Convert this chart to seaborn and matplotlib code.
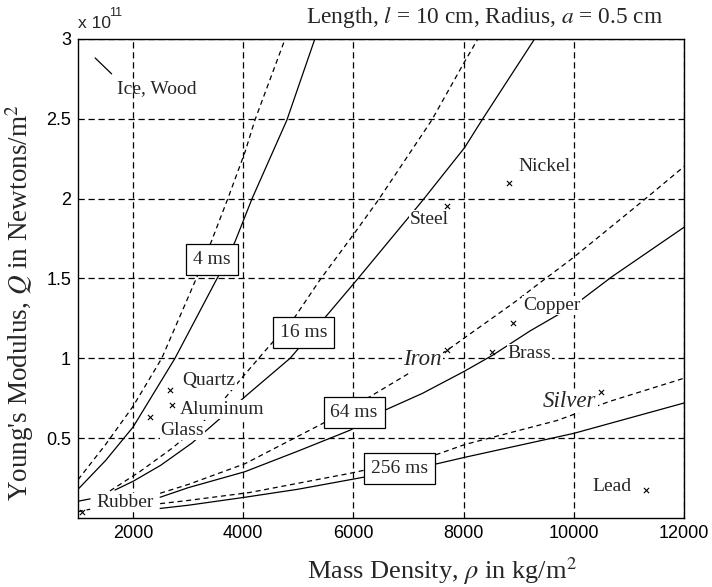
import pandas as pd
import seaborn as sns
import matplotlib.pyplot as plt

sns.set_style('white')
plt.rcParams['font.family'] = ['Liberation Serif', 'DejaVu Serif']
plt.rcParams['mathtext.fontset'] = 'stix'

# Curves. rho in kg/m^3, Q in units of 1e11 N/m^2
rho_4_solid = [1000, 1500, 2000, 2760, 3540, 3850, 4160, 4790, 5300]
q_4_solid = [0.18, 0.36, 0.57, 1.0, 1.51, 1.73, 2.0, 2.49, 3.0]
rho_4_dash = [1000, 1500, 2000, 2520, 3160, 3430, 3720, 4030, 4210, 4760]
q_4_dash = [0.24, 0.46, 0.70, 1.0, 1.51, 1.74, 2.0, 2.29, 2.49, 3.0]

rho_16_solid = [1670, 2000, 2500, 3070, 4100, 4850, 5520, 6060, 6660, 7260, 8020, 8330, 9290]
q_16_solid = [0.175, 0.23, 0.33, 0.47, 0.78, 1.0, 1.27, 1.49, 1.74, 1.99, 2.32, 2.49, 3.0]
rho_16_dash = [1580, 2120, 2720, 3400, 4030, 4430, 4940, 5390, 5990, 6450, 7420, 7990, 8260]
q_16_dash = [0.17, 0.29, 0.44, 0.64, 0.9, 1.06, 1.26, 1.49, 1.77, 1.99, 2.49, 2.84, 3.0]

rho_64_solid = [2490, 3000, 4030, 5000, 5940, 6570, 7250, 8020, 8530, 9200, 10000, 10690, 12000]
q_64_solid = [0.13, 0.19, 0.29, 0.42, 0.55, 0.675, 0.78, 0.92, 1.02, 1.17, 1.33, 1.51, 1.82]
rho_64_dash = [2490, 3000, 4030, 5430, 6300, 6930, 7700, 8960, 9260, 9990, 11270, 12000]
q_64_dash = [0.155, 0.21, 0.34, 0.59, 0.76, 0.89, 1.05, 1.36, 1.44, 1.63, 1.99, 2.2]

rho_256_solid = [2490, 3000, 4030, 4990, 5940, 7520, 8020, 10000, 12000]
q_256_solid = [0.06, 0.08, 0.13, 0.18, 0.24, 0.34, 0.38, 0.53, 0.72]
rho_256_dash = [2490, 3000, 4120, 5940, 7530, 8020, 9690, 10650, 12000]
q_256_dash = [0.09, 0.11, 0.16, 0.28, 0.40, 0.46, 0.61, 0.73, 0.875]

# short bits near rubber and ice/wood
rho_rubber_solid = [1000, 1220]
q_rubber_solid = [0.105, 0.12]
rho_rubber_dash = [1000, 1220]
q_rubber_dash = [0.04, 0.055]
rho_ice = [1310, 1610]
q_ice = [2.88, 2.78]

period_labels = ['4 ms', '16 ms', '64 ms', '256 ms']
period_rho = [3430, 5100, 6010, 6840]
period_q = [1.62, 1.16, 0.66, 0.31]

materials = ['Quartz', 'Aluminum', 'Glass', 'Nickel', 'Steel', 'Copper',
             'Iron', 'Brass', 'Silver', 'Lead', 'Rubber']
mat_rho = [2670, 2700, 2300, 8820, 7700, 8900, 7700, 8510, 10500, 11310, 1070]
mat_q = [0.80, 0.71, 0.63, 2.10, 1.95, 1.22, 1.05, 1.04, 0.79, 0.175, 0.04]
# where the names are written (left edge, middle)
name_rho = [2900, 2850, 2500, 8990, 7030, 9080, 6900, 8800, 9440, 10330, 1340]
name_q = [0.86, 0.68, 0.55, 2.2, 1.87, 1.33, 0.99, 1.03, 0.73, 0.2, 0.1]

curves = [
    ('4s', 'solid', rho_4_solid, q_4_solid), ('4d', 'dashed', rho_4_dash, q_4_dash),
    ('16s', 'solid', rho_16_solid, q_16_solid), ('16d', 'dashed', rho_16_dash, q_16_dash),
    ('64s', 'solid', rho_64_solid, q_64_solid), ('64d', 'dashed', rho_64_dash, q_64_dash),
    ('256s', 'solid', rho_256_solid, q_256_solid), ('256d', 'dashed', rho_256_dash, q_256_dash),
    ('rs', 'solid', rho_rubber_solid, q_rubber_solid), ('rd', 'dashed', rho_rubber_dash, q_rubber_dash),
    ('ice', 'solid', rho_ice, q_ice),
]
rows = []
for name, kind, xs, ys in curves:
    for x, y in zip(xs, ys):
        rows.append((name, kind, x, y))
df = pd.DataFrame(rows, columns=['curve', 'kind', 'rho', 'Q'])

fig, ax = plt.subplots(figsize=(7.12, 5.87), dpi=100)
fig.subplots_adjust(left=0.1096, right=0.9607, bottom=0.1175, top=0.934)

sns.lineplot(data=df, x='rho', y='Q', units='curve', style='kind', estimator=None, sort=False,
             dashes={'solid': '', 'dashed': (4, 3)}, color='black', linewidth=0.9,
             legend=False, ax=ax, zorder=3)
sns.scatterplot(x=mat_rho, y=mat_q, marker='x', color='black', s=14, linewidth=0.8, ax=ax, zorder=6)

for lab, x, y in zip(period_labels, period_rho, period_q):
    ax.text(x, y, lab, ha='center', va='center', fontsize=14, zorder=7,
            bbox=dict(boxstyle='square,pad=0.35', fc='white', ec='black', lw=0.9))

for name, x, y in zip(materials, name_rho, name_q):
    italic = name in ('Iron', 'Silver')
    ax.text(x, y, name, ha='left', va='center', fontsize=16.5 if italic else 14,
            fontstyle='italic' if italic else 'normal', zorder=5,
            bbox=dict(boxstyle='square,pad=0.05', fc='white', ec='none'))
ax.text(1710, 2.69, 'Ice, Wood', ha='left', va='center', fontsize=14, zorder=5)

ax.set_xlim(1000, 12000)
ax.set_ylim(0, 3)
ax.set_xticks([2000, 4000, 6000, 8000, 10000, 12000])
ax.set_yticks([0.5, 1, 1.5, 2, 2.5, 3])
ax.set_yticklabels(['0.5', '1', '1.5', '2', '2.5', '3'])
ax.tick_params(labelsize=13, labelfontfamily='Liberation Sans', direction='in', length=4,
               width=0.8, pad=5, colors='black')
ax.grid(True, color='black', linestyle=(0, (5, 3)), linewidth=0.9)
for sp in ax.spines.values():
    sp.set_color('black')
    sp.set_linewidth(1.0)

ax.set_xlabel(r'Mass Density, $\rho$ in kg/m$^2$', fontsize=19)
ax.xaxis.set_label_coords(0.60, -0.078)
ax.set_ylabel(r"Young's Modulus, $Q$ in Newtons/m$^2$", fontsize=19.5)
ax.yaxis.set_label_coords(-0.07, 0.45)

fig.text(485 / 712, 1 - 18 / 587, r'Length, $l$ = 10 cm, Radius, $a$ = 0.5 cm',
         ha='center', va='center', fontsize=16.8)
fig.text(78 / 712, 1 - 24 / 587, 'x 10', fontfamily='Liberation Sans', fontsize=12.5, va='center')
fig.text(109 / 712, 1 - 13 / 587, '11', fontfamily='Liberation Sans', fontsize=9, va='center')

fig.savefig('out.png', dpi=100)
